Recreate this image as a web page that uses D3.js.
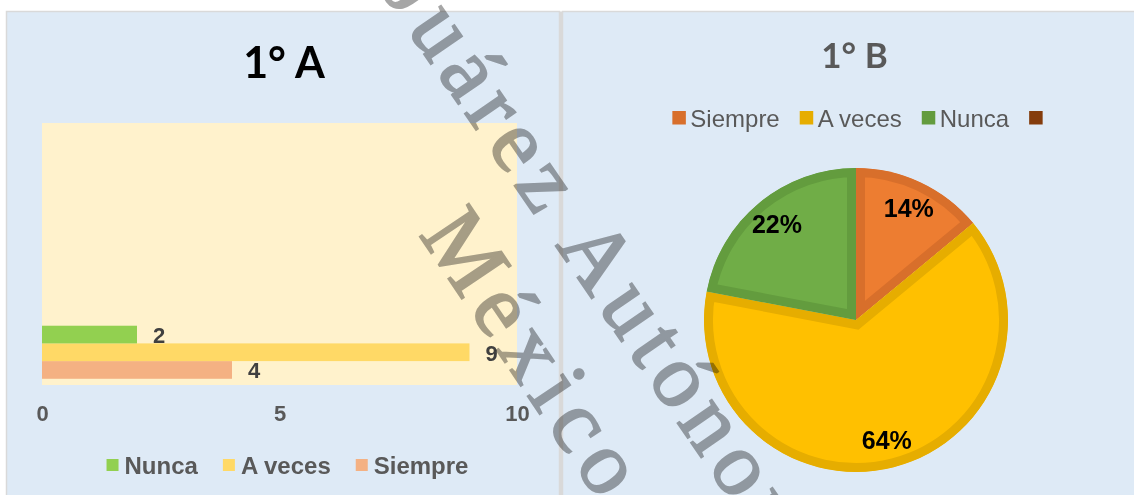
<!DOCTYPE html>
<html><head><meta charset="utf-8">
<script src="https://cdn.jsdelivr.net/npm/d3@7"></script>
<style>
html,body{margin:0;padding:0;background:#fff;}
svg{display:block;}
.wm{mix-blend-mode:multiply;}
</style></head><body>
<svg id="c" width="1134" height="495"></svg>
<script>
// ---- Data: chart 1° A (bars) ----
const titleA = "1° A";
const categoriesA = ["1° A"];
const seriesA = ["Siempre", "A veces", "Nunca"];
const valuesA = [4, 9, 2];
const colorsA = ["#f4b183", "#ffd966", "#92d050"];
const legendOrderA = ["Nunca", "A veces", "Siempre"];
const ticksA = [0, 5, 10];

// ---- Data: chart 1° B (pie) ----
const titleB = "1° B";
const seriesB = ["Siempre", "A veces", "Nunca", ""];
const valuesB = [14, 64, 22, 0];
const fillsB = ["#ed7d31", "#ffc000", "#70ad47", "#843c0c"];
const bordersB = ["#d86f2b", "#e6ad00", "#639c3e", "#843c0c"];

// ---- Watermark ----
const watermarkLines = ["Juárez Autónoma de Tabasco", "México"];

const svg = d3.select("#c");
const sans = "'Liberation Sans', Arial, sans-serif";
const title = "Lato, 'Open Sans', sans-serif";

// Panels
svg.append("rect").attr("x", 6.5).attr("y", 11.5).attr("width", 553).attr("height", 500)
  .attr("fill", "#deeaf6").attr("stroke", "#d9d9d9").attr("stroke-width", 1.5);
svg.append("rect").attr("x", 562.5).attr("y", 11.5).attr("width", 580).attr("height", 500)
  .attr("fill", "#deeaf6").attr("stroke", "#d9d9d9").attr("stroke-width", 1.5);
svg.append("rect").attr("x", 559.5).attr("y", 11.5).attr("width", 3).attr("height", 500).attr("fill", "#d9d9d9");

// ================= Chart A =================
const plotA = {left: 42, right: 517, top: 123, bottom: 385};
svg.append("text").attr("x", 284).attr("y", 78).attr("text-anchor", "middle")
  .attr("font-family", title).attr("font-weight", 700).attr("font-size", 43).attr("fill", "#000")
  .text(titleA);

svg.append("rect").attr("x", plotA.left).attr("y", plotA.top)
  .attr("width", plotA.right - plotA.left).attr("height", plotA.bottom - plotA.top).attr("fill", "#fff2cc");

const x = d3.scaleLinear().domain([0, 10]).range([plotA.left, plotA.right]);
const slots = d3.range(4);
const yOuter = d3.scaleBand().domain(slots).range([plotA.bottom, plotA.top]).paddingInner(0.19).paddingOuter(0.095);
const yInner = d3.scaleBand().domain(seriesA).range([yOuter.bandwidth(), 0]);

const gA = svg.append("g");
categoriesA.forEach((cat, ci) => {
  const y0 = yOuter(ci);
  seriesA.forEach((s, i) => {
    gA.append("rect").attr("x", x(0)).attr("y", y0 + yInner(s))
      .attr("width", x(valuesA[i]) - x(0)).attr("height", yInner.bandwidth())
      .attr("fill", colorsA[i]);
    gA.append("text").attr("x", x(valuesA[i]) + 16).attr("y", y0 + yInner(s) + yInner.bandwidth() / 2 + 1)
      .attr("dominant-baseline", "central")
      .attr("font-family", sans).attr("font-weight", 700).attr("font-size", 22).attr("fill", "#404040")
      .text(valuesA[i]);
  });
});

const axA = svg.append("g").attr("transform", `translate(0,${plotA.bottom})`)
  .call(d3.axisBottom(x).tickValues(ticksA).tickSize(0).tickPadding(0));
axA.select(".domain").remove();
axA.selectAll("text").attr("y", 28).attr("dy", "0.35em")
  .attr("font-family", sans).attr("font-weight", 700).attr("font-size", 22).attr("fill", "#595959");

// Legend A
const legA = svg.append("g");
let lx = 0;
legendOrderA.forEach(name => {
  const i = seriesA.indexOf(name);
  const g = legA.append("g").attr("transform", `translate(${lx},0)`);
  g.append("rect").attr("x", 0).attr("y", -6).attr("width", 12).attr("height", 12).attr("fill", colorsA[i]);
  const t = g.append("text").attr("x", 18).attr("y", 0).attr("dominant-baseline", "central")
    .attr("font-family", sans).attr("font-weight", 700).attr("font-size", 24).attr("fill", "#595959").text(name);
  lx += 18 + t.node().getComputedTextLength() + 25;
});
const wA = lx - 25;
legA.attr("transform", `translate(${287.5 - wA / 2},465)`);

// ================= Chart B =================
svg.append("text").attr("x", 854.5).attr("y", 68).attr("text-anchor", "middle")
  .attr("font-family", title).attr("font-weight", 700).attr("font-size", 35).attr("fill", "#595959")
  .text(titleB);

const legB = svg.append("g");
lx = 0;
seriesB.forEach((name, i) => {
  const g = legB.append("g").attr("transform", `translate(${lx},0)`);
  g.append("rect").attr("x", 0).attr("y", -7).attr("width", 13.5).attr("height", 13.5).attr("fill", bordersB[i]);
  let w = 13.5;
  if (name) {
    const t = g.append("text").attr("x", 18).attr("y", 0).attr("dominant-baseline", "central")
      .attr("font-family", sans).attr("font-size", 24).attr("fill", "#595959").text(name);
    w = 18 + t.node().getComputedTextLength();
  }
  lx += w + 20;
});
const wB = lx - 20;
legB.attr("transform", `translate(${857.5 - wB / 2},118)`);

const cx = 856, cy = 320, R = 152;
const pie = d3.pie().sort(null).value(d => d.v);
const arcs = pie(seriesB.map((s, i) => ({s, v: valuesB[i], i})));
const arc = d3.arc().innerRadius(0).outerRadius(R);
const labelArc = d3.arc().innerRadius(124).outerRadius(124);
const defs = svg.append("defs");
const gB = svg.append("g").attr("transform", `translate(${cx},${cy})`);
arcs.forEach((a, k) => {
  if (a.data.v <= 0) return;
  const id = "clip" + k;
  defs.append("clipPath").attr("id", id).append("path").attr("d", arc(a));
  gB.append("path").attr("d", arc(a)).attr("fill", fillsB[a.data.i])
    .attr("stroke", bordersB[a.data.i]).attr("stroke-width", 18).attr("stroke-linejoin", "miter")
    .attr("clip-path", `url(#${id})`);
});
arcs.forEach(a => {
  if (a.data.v <= 0) return;
  const [px, py] = labelArc.centroid(a);
  gB.append("text").attr("x", px).attr("y", py).attr("text-anchor", "middle").attr("dominant-baseline", "central")
    .attr("font-family", sans).attr("font-weight", 700).attr("font-size", 25).attr("fill", "#000")
    .text(a.data.v + "%");
});

// ================= Watermark =================
const wmFont = "'Liberation Serif', 'Times New Roman', serif";
const wm1 = svg.append("g").attr("class", "wm").attr("transform", "translate(381.5,-7.7) rotate(55.5)");
wm1.append("text").attr("x", 0).attr("y", 0).attr("letter-spacing", 8.5).text(watermarkLines[0]);
const wm2 = svg.append("g").attr("class", "wm").attr("transform", "translate(550.5,393) rotate(56)");
wm2.append("text").attr("x", -205.3).attr("y", 20.7).attr("letter-spacing", 9.5).text(watermarkLines[1]);
svg.selectAll("g.wm text").attr("font-family", wmFont)
  .attr("font-size", 90).attr("fill", "#a6a6a6").attr("stroke", "#a6a6a6").attr("stroke-width", 2)
  .attr("class", "wm");
</script>
</body></html>
